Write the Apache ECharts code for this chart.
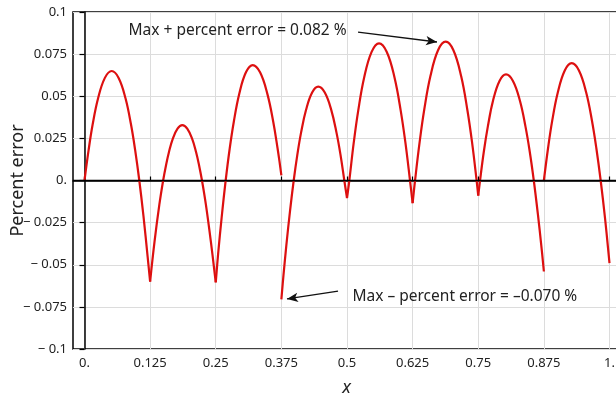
<!DOCTYPE html>
<html>
<head>
<meta charset="utf-8">
<script src="https://cdn.jsdelivr.net/npm/echarts@6/dist/echarts.min.js"></script>
<style>
  html, body { margin: 0; padding: 0; background: #fff; }
  #main { width: 616px; height: 394px; }
</style>
</head>
<body>
<div id="main"></div>
<script>
// x tick positions (knots)
const xTicks = [0, 0.125, 0.25, 0.375, 0.5, 0.625, 0.75, 0.875, 1];

// error curve, one piece per interval between knots
const seg1 = [[0, 0], [0.0078, 0.018], [0.0155, 0.0332], [0.0259, 0.0488], [0.0388, 0.0609], [0.0518, 0.065], [0.065, 0.0609], [0.0781, 0.0488], [0.0886, 0.0332], [0.0965, 0.018], [0.1044, 0], [0.1123, -0.021], [0.1202, -0.045], [0.125, -0.060]];
const seg2 = [[0.125, -0.060], [0.1334, -0.0363], [0.1425, -0.0145], [0.1498, 0], [0.1553, 0.0091], [0.1608, 0.0168], [0.1681, 0.0247], [0.1772, 0.0308], [0.1863, 0.0329], [0.1957, 0.0308], [0.2051, 0.0247], [0.2126, 0.0168], [0.2182, 0.0091], [0.2238, 0], [0.2313, -0.0145], [0.2407, -0.0363], [0.25, -0.0605]];
const seg3 = [[0.25, -0.0605], [0.2545, -0.0437], [0.2612, -0.0221], [0.2689, 0], [0.2766, 0.019], [0.2844, 0.0349], [0.2947, 0.0514], [0.3075, 0.0642], [0.3204, 0.0685], [0.3344, 0.0642], [0.3483, 0.0514], [0.3595, 0.0349], [0.3678, 0.019], [0.3723, 0.0093], [0.375, 0.003]];
const seg4 = [[0.375, -0.0705], [0.3789, -0.0566], [0.3845, -0.0384], [0.3915, -0.018], [0.3985, 0], [0.4055, 0.0155], [0.4125, 0.0284], [0.4219, 0.0418], [0.4336, 0.0522], [0.4453, 0.0557], [0.4577, 0.0522], [0.4701, 0.0418], [0.48, 0.0284], [0.4875, 0.0155], [0.4949, 0], [0.5, -0.0105]];
const seg5 = [[0.5, -0.0105], [0.5044, 0], [0.5129, 0.0226], [0.5214, 0.0415], [0.5327, 0.0611], [0.5469, 0.0763], [0.561, 0.0814], [0.5758, 0.0763], [0.5905, 0.0611], [0.6023, 0.0415], [0.6112, 0.0226], [0.62, 0], [0.625, -0.0135]];
const seg6 = [[0.625, -0.0135], [0.6296, 0], [0.6384, 0.0229], [0.6471, 0.042], [0.6588, 0.0618], [0.6734, 0.0773], [0.688, 0.0824], [0.7027, 0.0773], [0.7175, 0.0618], [0.7292, 0.042], [0.7381, 0.0229], [0.7469, 0], [0.75, -0.009]];
const seg7 = [[0.75, -0.009], [0.7534, 0], [0.7608, 0.0175], [0.7683, 0.0321], [0.7781, 0.0473], [0.7905, 0.0591], [0.8029, 0.063], [0.8161, 0.0591], [0.8294, 0.0473], [0.8399, 0.0321], [0.8479, 0.0175], [0.8558, 0], [0.8637, -0.0203], [0.8701, -0.0386], [0.875, -0.054]];
const seg8 = [[0.875, 0], [0.883, 0.0193], [0.8909, 0.0355], [0.9015, 0.0522], [0.9148, 0.0653], [0.928, 0.0696], [0.9418, 0.0653], [0.9556, 0.0522], [0.9666, 0.0355], [0.9749, 0.0193], [0.9832, 0], [0.9915, -0.0224], [1.0, -0.049]];

// annotations: text anchor and arrow ends, in data units
const maxText = 'Max + percent error = 0.082 %';
const maxTextAt = [0.0829, 0.0887];
const maxArrow = [[0.521, 0.0881], [0.6714, 0.0822]];
const minText = 'Max \u2013 percent error = \u20130.070 %';
const minTextAt = [0.5095, -0.0691];
const minArrow = [[0.4829, -0.0656], [0.3857, -0.0703]];

const FONT = 'Noto Sans';
const myChart = echarts.init(document.getElementById('main'), null, { renderer: 'canvas' });

const curveSeries = [seg1, seg2, seg3, seg4, seg5, seg6, seg7, seg8].map((d) => ({
  type: 'line',
  data: d,
  smooth: 0.4,
  showSymbol: false,
  silent: true,
  lineStyle: { color: '#dd1010', width: 2.2 },
  z: 3
}));

function fmtY(v) {
  const n = Number(v.toFixed(3));
  if (n === 0) return '0.';
  if (n < 0) return '\u2212 ' + String(-n);
  return String(n);
}
function fmtX(v) {
  const n = Number(v.toFixed(3));
  if (n === 0) return '0.';
  if (n === 1) return '1.';
  return String(n);
}

const option = {
  animation: false,
  backgroundColor: '#fff',
  grid: {
    left: 73,
    top: 12,
    width: 547,
    height: 337,
    containLabel: false,
    outerBoundsMode: 'none',
    show: true,
    borderColor: '#000',
    borderWidth: 1.5
  },
  xAxis: {
    type: 'value',
    min: -0.0219,
    max: 1.02,
    name: 'x',
    nameLocation: 'middle',
    nameGap: 30,
    nameTextStyle: { fontFamily: FONT, fontStyle: 'italic', fontSize: 18, color: '#222' },
    axisLine: { show: true, lineStyle: { color: '#000', width: 1.5 } },
    axisTick: { show: true, inside: true, length: 4, customValues: xTicks, lineStyle: { color: '#000', width: 1.2 } },
    axisLabel: { customValues: xTicks, formatter: fmtX, margin: 8, color: '#222', fontSize: 13, fontFamily: FONT },
    splitLine: { show: true, lineStyle: { color: '#dcdcdc', width: 1 } }
  },
  yAxis: {
    type: 'value',
    min: -0.1,
    max: 0.1,
    interval: 0.025,
    name: 'Percent error',
    nameLocation: 'middle',
    nameGap: 46,
    nameMoveOverlap: false,
    nameTextStyle: { fontFamily: FONT, fontSize: 18, color: '#222' },
    axisLine: { show: true, lineStyle: { color: '#000', width: 1.5 } },
    axisTick: { show: true, inside: false, length: 5, lineStyle: { color: '#000', width: 1.2 } },
    axisLabel: { formatter: fmtY, margin: 6, color: '#222', fontSize: 13, fontFamily: FONT },
    splitLine: { show: true, lineStyle: { color: '#dcdcdc', width: 1 } }
  },
  series: curveSeries.concat([
    {
      // zero line and the two annotation arrows / texts
      type: 'line',
      data: [],
      silent: true,
      z: 4,
      markLine: {
        silent: true,
        animation: false,
        label: { show: false },
        data: [
          [
            { yAxis: 0, x: 73, symbol: 'none', lineStyle: { color: '#000', width: 1.3, type: 'solid' } },
            { yAxis: 0, x: 620, symbol: 'none' }
          ],
          [
            { coord: maxArrow[0], symbol: 'none', lineStyle: { color: '#111', width: 1.3, type: 'solid' } },
            { coord: maxArrow[1], symbol: 'arrow', symbolSize: [7, 11] }
          ],
          [
            { coord: minArrow[0], symbol: 'none', lineStyle: { color: '#111', width: 1.3, type: 'solid' } },
            { coord: minArrow[1], symbol: 'arrow', symbolSize: [7, 11] }
          ]
        ]
      },
      markPoint: {
        silent: true,
        symbol: 'circle',
        symbolSize: 1,
        itemStyle: { color: 'rgba(0,0,0,0)' },
        label: {
          show: true,
          position: 'right',
          distance: 0,
          color: '#222',
          fontFamily: FONT,
          fontSize: 15.5
        },
        data: [
          { coord: maxTextAt, label: { formatter: maxText } },
          { coord: minTextAt, label: { formatter: minText } }
        ]
      }
    }
  ])
};

option && myChart.setOption(option);
</script>
</body>
</html>
